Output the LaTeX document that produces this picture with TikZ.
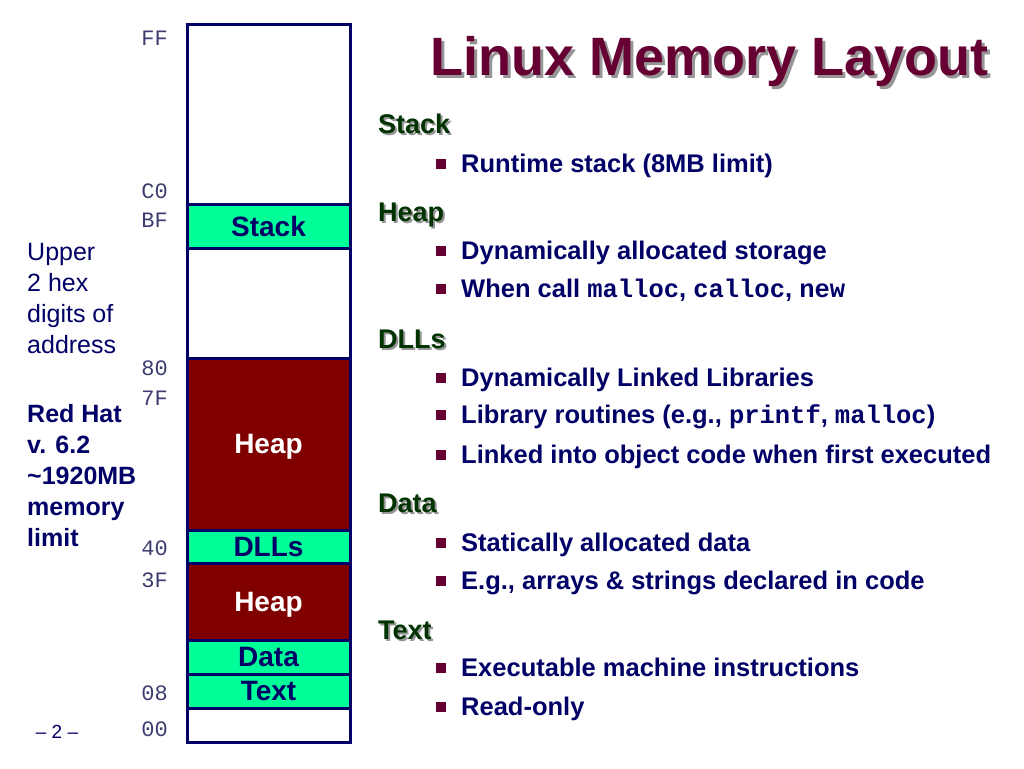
\documentclass[tikz,border=0pt]{standalone}
\usepackage{fontspec}
\setmainfont{Liberation Sans}
\setmonofont{Liberation Mono}
\definecolor{segnavy}{RGB}{0,0,102}
\definecolor{textnavy}{RGB}{0,0,102}
\definecolor{seggreen}{RGB}{0,255,153}
\definecolor{heapred}{RGB}{128,0,0}
\definecolor{titlered}{RGB}{102,0,51}
\definecolor{headgreen}{RGB}{0,51,0}
\definecolor{shadowgray}{RGB}{150,150,150}
\definecolor{addrgray}{RGB}{60,60,110}
\newcommand{\segwidth}{163pt}
\newcommand{\sqbullet}{\textcolor{titlered}{\rule[3.5pt]{10pt}{10pt}}\hspace{15pt}}
% text with a grey drop shadow behind it
\newcommand{\shadowed}[2]{\makebox[0pt][l]{\hspace{#1}\raisebox{-#1}{\textcolor{shadowgray}{#2}}}#2}
\tikzstyle{segment}=[draw=segnavy, line width=3pt, inner sep=0, outer sep=0, minimum width=\segwidth,
                     text depth=0pt, font=\fontsize{28}{28}\selectfont\bfseries]
\tikzstyle{emptyseg}=[segment, fill=white]
\tikzstyle{codeseg}=[segment, fill=seggreen, text=textnavy]
\tikzstyle{heapseg}=[segment, fill=heapred, text=white]
\tikzstyle{addr}=[anchor=east, inner sep=0, text=addrgray, font=\ttfamily\fontsize{22}{22}\selectfont]
\tikzstyle{note}=[anchor=north west, inner sep=0, align=left, text=textnavy,
                  font=\fontsize{25}{31}\selectfont]
\tikzstyle{heading}=[anchor=base west, inner sep=0, text=headgreen, font=\fontsize{27}{27}\selectfont\bfseries]
\tikzstyle{item}=[anchor=base west, inner sep=0, text=textnavy, font=\fontsize{25.5}{25.5}\selectfont\bfseries]

\begin{document}
\begin{tikzpicture}[x=1pt, y=-1pt]
        \useasboundingbox (0, 0) rectangle (1024, 768);
        % memory column, top to bottom
        \node[emptyseg, minimum height=179pt] (top)   at (268.5, 114.5) {};
        \node[codeseg,  minimum height=44pt]  (stack) at (268.5, 226)   {Stack};
        \node[emptyseg, minimum height=110pt] (gap)   at (268.5, 303)   {};
        \node[heapseg,  minimum height=172pt] (heapA) at (268.5, 444)   {Heap};
        \node[codeseg,  minimum height=33pt]  (dlls)  at (268.5, 546.5) {DLLs};
        \node[heapseg,  minimum height=77pt]  (heapB) at (268.5, 601.5) {Heap};
        \node[codeseg,  minimum height=34pt]  (data)  at (268.5, 657)   {Data};
        \node[codeseg,  minimum height=34pt]  (text)  at (268.5, 691)   {Text};
        \node[emptyseg, minimum height=34pt]  (low)   at (268.5, 725)   {};
        % addresses
        \node[addr] (aFF) at (168, 38)  {FF};
        \node[addr] (aC0) at (168, 191) {C0};
        \node[addr] (aBF) at (168, 220) {BF};
        \node[addr] (a80) at (168, 368) {80};
        \node[addr] (a7F) at (168, 398) {7F};
        \node[addr] (a40) at (168, 548) {40};
        \node[addr] (a3F) at (168, 580) {3F};
        \node[addr] (a08) at (168, 693) {08};
        \node[addr] (a00) at (168, 729) {00};
        % notes on the left
        \node[note] (upper)  at (27, 243) {Upper\\2 hex\\digits of\\address};
        \node[note, font=\fontsize{25}{31}\selectfont\bfseries] (redhat) at (27, 404)
            {Red Hat\\v. 6.2\\\textasciitilde1920MB\\memory\\limit};
        \node[text=textnavy, font=\fontsize{19}{19}\selectfont] (page) at (57, 732) {\textendash\ 2 \textendash};
        % title
        \node[anchor=base west, inner sep=0, text=titlered, font=\fontsize{54}{54}\selectfont\bfseries]
            (title) at (430, 75) {\shadowed{3pt}{Linux Memory Layout}};
        % headings
        \foreach \name/\y in {Stack/124, Heap/212, DLLs/339, Data/503, Text/630}
            \node[heading] (head\name) at (378, \y+9) {\shadowed{2pt}{\name}};
        % bullets
        \node[item] (i1)  at (436, 172) {\sqbullet Runtime stack (8MB limit)};
        \node[item] (i2)  at (436, 259) {\sqbullet Dynamically allocated storage};
        \node[item] (i3)  at (436, 297) {\sqbullet When call \texttt{malloc}, \texttt{calloc}, \texttt{new}};
        \node[item] (i4)  at (436, 386) {\sqbullet Dynamically Linked Libraries};
        \node[item] (i5)  at (436, 423) {\sqbullet Library routines (e.g., \texttt{printf}, \texttt{malloc})};
        \node[item] (i6)  at (436, 463) {\sqbullet Linked into object code when first executed};
        \node[item] (i7)  at (436, 551) {\sqbullet Statically allocated data};
        \node[item] (i8)  at (436, 589) {\sqbullet E.g., arrays \& strings declared in code};
        \node[item] (i9)  at (436, 676) {\sqbullet Executable machine instructions};
        \node[item] (i10) at (436, 715) {\sqbullet Read-only};
    \end{tikzpicture}
\end{document}
